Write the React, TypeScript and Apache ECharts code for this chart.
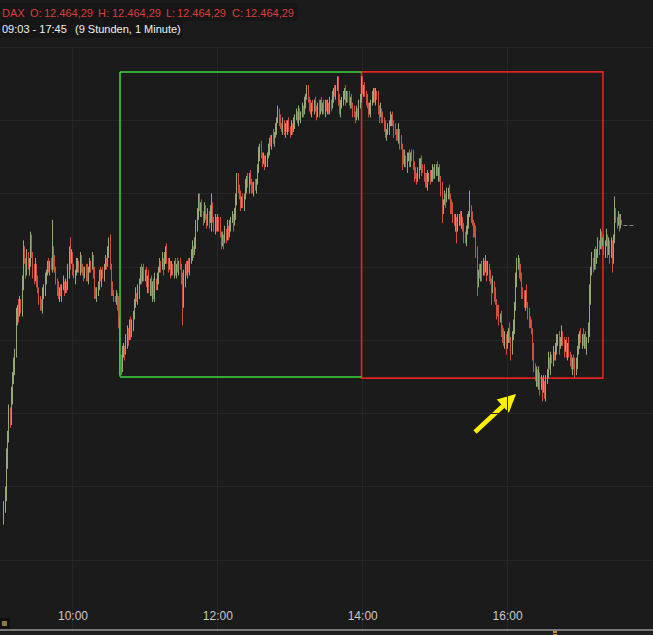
import React, { useEffect, useRef } from "react";
import * as echarts from "echarts";

// 1-minute DAX candles, first candle 09:03 (minute index 3 from 09:00)
const firstIndex = 3;
const firstOpen = 12363;
const closes = [
  12368, 12372, 12384, 12392, 12400, 12398, 12406,
  12412, 12416, 12420, 12432, 12436, 12434, 12438, 12436, 12444, 12455,
  12452, 12449, 12453, 12450, 12452, 12458, 12454, 12449, 12446, 12450,
  12445, 12442, 12440, 12437, 12436, 12440, 12443, 12446, 12448, 12450,
  12449, 12451, 12450, 12456, 12452, 12449, 12446, 12443, 12440, 12442,
  12441, 12443, 12444, 12442, 12444, 12443, 12448, 12455, 12452, 12454,
  12449, 12447, 12448, 12450, 12451, 12449, 12453, 12451, 12448, 12447,
  12449, 12448, 12446, 12449, 12451, 12450, 12453, 12448, 12442, 12440,
  12441, 12444, 12447, 12446, 12448, 12447, 12450, 12452, 12451, 12455,
  12458, 12450, 12443, 12441, 12440, 12439, 12440, 12438, 12430, 12418,
  12416, 12420, 12422, 12421, 12424, 12428, 12426, 12430, 12427, 12431,
  12433, 12438, 12440, 12439, 12442, 12445, 12448, 12446, 12449, 12447,
  12448, 12444, 12446, 12442, 12445, 12441, 12444, 12440, 12445, 12443,
  12446, 12449, 12451, 12450, 12452, 12450, 12453, 12456, 12452, 12450,
  12451, 12448, 12450, 12449, 12451, 12448, 12450, 12449, 12451, 12450,
  12446, 12438, 12446, 12450, 12448, 12451, 12449, 12452, 12454, 12456,
  12455, 12458, 12463, 12468, 12473, 12470, 12471, 12468, 12466, 12469,
  12467, 12465, 12468, 12466, 12468, 12470, 12466, 12464, 12466, 12463,
  12466, 12464, 12461, 12458, 12460, 12459, 12462, 12460, 12463, 12461,
  12464, 12466, 12467, 12465, 12468, 12472, 12480, 12477, 12474, 12472,
  12473, 12471, 12474, 12477, 12480, 12478, 12481, 12479, 12477, 12476,
  12478, 12477, 12479, 12483, 12488, 12491, 12488, 12486, 12487, 12485,
  12486, 12488, 12490, 12493, 12492, 12494, 12493, 12495, 12497, 12500,
  12503, 12500, 12498, 12497, 12499, 12496, 12498, 12497, 12499, 12497,
  12496, 12498, 12497, 12499, 12501, 12502, 12500, 12503, 12501, 12502,
  12504, 12503, 12506, 12508, 12510, 12507, 12505, 12503, 12505, 12504,
  12506, 12504, 12502, 12505, 12503, 12506, 12504, 12505, 12503, 12506,
  12504, 12505, 12503, 12506, 12505, 12508, 12510, 12509, 12511, 12513,
  12508, 12503, 12505, 12507, 12508, 12510, 12507, 12509, 12508, 12506,
  12507, 12505, 12503, 12502, 12501, 12503, 12502, 12505, 12508, 12513,
  12510, 12511, 12509, 12507, 12505, 12503, 12504, 12506, 12508, 12510,
  12507, 12509, 12508, 12504, 12502, 12503, 12501, 12500, 12498, 12495,
  12496, 12497, 12499, 12500, 12501, 12499, 12497, 12496, 12495, 12494,
  12496, 12493, 12491, 12488, 12486, 12487, 12485, 12487, 12488, 12486,
  12488, 12487, 12485, 12482, 12481, 12480, 12482, 12484, 12486, 12484,
  12483, 12481, 12480, 12478, 12480, 12481, 12480, 12482, 12483, 12481,
  12483, 12484, 12482, 12483, 12480, 12476, 12470, 12472, 12474, 12473,
  12475, 12476, 12474, 12471, 12469, 12467, 12465, 12466, 12464, 12466,
  12467, 12465, 12466, 12463, 12461, 12459, 12462, 12465, 12468, 12470,
  12467, 12465, 12463, 12461, 12455, 12446, 12448, 12447, 12450, 12448,
  12451, 12449, 12451, 12448, 12450, 12447, 12445, 12442, 12444, 12441,
  12438, 12435, 12434, 12432, 12433, 12429, 12426, 12424, 12426, 12423,
  12426, 12428, 12425, 12422, 12426, 12429, 12436, 12445, 12450, 12452,
  12448, 12446, 12442, 12440, 12438, 12441, 12437, 12434, 12432, 12430,
  12428, 12421, 12416, 12412, 12414, 12410, 12413, 12409, 12411, 12408,
  12410, 12407, 12411, 12414, 12418, 12416, 12419, 12418, 12420, 12419,
  12422, 12424, 12426, 12423, 12425, 12427, 12424, 12422, 12424, 12421,
  12423, 12420, 12418, 12416, 12418, 12416, 12414, 12418, 12421, 12424,
  12427, 12425, 12426, 12424, 12426, 12423, 12425, 12428, 12440, 12448,
  12452, 12450, 12454, 12452, 12455, 12458, 12457, 12460, 12458, 12459,
  12456, 12458, 12460, 12455, 12458, 12454, 12457, 12452, 12460, 12468,
  12466, 12465, 12467, 12464, 12466, 12464.29,
];

// points above the higher of open/close, per candle
const upWick = [
  2, 3, 4, 2, 3, 2, 3,
  2, 3, 2, 4, 1, 3, 2, 1, 3, 4,
  2, 1, 3, 2, 1, 2, 3, 1, 2, 3,
  1, 2, 1, 0, 2, 3, 1, 2, 1, 2,
  3, 1, 2, 3, 1, 2, 1, 0, 2, 1,
  2, 1, 3, 1, 2, 1, 3, 2, 1, 2,
  1, 2, 1, 3, 2, 1, 2, 1, 0, 2,
  1, 2, 3, 1, 2, 1, 2, 1, 2, 1,
  2, 1, 2, 3, 1, 2, 1, 2, 1, 2,
  1, 3, 1, 2, 1, 0, 2, 1, 2, 3,
  2, 3, 2, 1, 3, 2, 1, 2, 3, 1,
  2, 1, 3, 1, 2, 1, 2, 3, 1, 2,
  1, 2, 1, 3, 1, 2, 1, 2, 3, 1,
  2, 1, 2, 1, 3, 1, 2, 1, 2, 1,
  2, 1, 2, 1, 1, 2, 1, 3, 1, 2,
  1, 2, 3, 1, 2, 1, 2, 1, 2, 3,
  1, 2, 3, 2, 1, 2, 1, 2, 1, 3,
  2, 1, 2, 1, 3, 1, 2, 1, 2, 1,
  2, 1, 3, 1, 2, 1, 2, 1, 3, 1,
  2, 1, 2, 1, 2, 3, 1, 2, 1, 2,
  1, 2, 1, 3, 1, 2, 1, 2, 1, 2,
  1, 2, 1, 2, 3, 1, 2, 1, 2, 1,
  2, 1, 2, 1, 2, 1, 3, 1, 2, 1,
  2, 1, 2, 1, 2, 1, 1, 2, 1, 2,
  1, 2, 1, 2, 1, 2, 1, 2, 1, 1,
  2, 1, 2, 1, 1, 2, 1, 2, 1, 2,
  1, 2, 1, 1, 2, 1, 2, 1, 2, 1,
  1, 2, 1, 2, 1, 2, 1, 2, 1, 1,
  2, 1, 2, 1, 2, 1, 2, 1, 1, 2,
  1, 2, 1, 2, 1, 2, 1, 2, 1, 1,
  2, 1, 2, 1, 2, 1, 2, 1, 2, 1,
  1, 2, 1, 2, 1, 3, 1, 2, 1, 2,
  1, 2, 1, 3, 1, 2, 1, 2, 1, 2,
  3, 1, 2, 1, 2, 3, 1, 2, 1, 2,
  1, 2, 3, 1, 2, 1, 2, 3, 1, 2,
  1, 2, 1, 2, 3, 1, 2, 1, 2, 1,
  2, 1, 2, 1, 2, 1, 3, 1, 2, 1,
  2, 1, 2, 1, 2, 3, 1, 2, 1, 2,
  1, 2, 3, 1, 2, 1, 2, 3, 1, 2,
  1, 2, 1, 2, 3, 2, 1, 3, 1, 2,
  2, 1, 3, 1, 2, 1, 2, 1, 3, 1,
  2, 1, 2, 3, 1, 2, 1, 3, 2, 1,
  2, 1, 3, 1, 2, 3, 2, 3, 1, 2,
  1, 3, 2, 1, 2, 1, 3, 1, 2, 1,
  2, 1, 3, 1, 2, 1, 3, 1, 2, 1,
  3, 1, 2, 1, 3, 1, 2, 1, 3, 1,
  2, 3, 1, 2, 1, 3, 1, 2, 1, 2,
  1, 3, 1, 2, 1, 2, 3, 1, 2, 3,
  1, 2, 1, 3, 1, 2, 1, 3, 4, 2,
  3, 1, 2, 3, 1, 2, 1, 3, 2, 1,
  2, 1, 3, 1, 2, 1, 3, 2, 1, 2,
  2, 1, 2, 1, 2, 0,
];

// points below the lower of open/close, per candle
const downWick = [
  1, 2, 2, 3, 2, 3, 2,
  3, 2, 3, 1, 2, 3, 1, 2, 3, 2,
  1, 3, 2, 1, 3, 2, 1, 3, 2, 1,
  2, 1, 3, 2, 1, 2, 1, 3, 2, 1,
  1, 2, 1, 2, 3, 1, 2, 3, 1, 2,
  1, 3, 1, 2, 1, 2, 1, 2, 3, 1,
  2, 1, 3, 1, 2, 1, 2, 3, 1, 2,
  1, 3, 1, 2, 1, 2, 1, 2, 3, 1,
  2, 1, 2, 1, 3, 1, 2, 1, 2, 1,
  2, 1, 3, 1, 2, 1, 2, 3, 1, 2,
  1, 2, 1, 3, 1, 2, 3, 1, 2, 1,
  3, 1, 2, 1, 2, 3, 1, 2, 1, 2,
  2, 1, 3, 1, 2, 1, 3, 1, 2, 1,
  1, 2, 1, 2, 1, 3, 1, 2, 1, 2,
  1, 2, 1, 2, 3, 1, 2, 1, 2, 1,
  2, 1, 2, 3, 1, 2, 1, 2, 1, 2,
  2, 1, 2, 1, 2, 1, 3, 1, 2, 1,
  1, 2, 1, 3, 1, 2, 1, 2, 3, 1,
  1, 2, 1, 2, 1, 3, 1, 2, 1, 2,
  1, 2, 1, 3, 1, 2, 1, 2, 1, 3,
  2, 1, 2, 1, 2, 1, 3, 1, 2, 1,
  2, 1, 2, 1, 1, 2, 1, 2, 1, 2,
  1, 2, 1, 2, 1, 2, 1, 2, 1, 2,
  1, 2, 1, 1, 2, 1, 2, 1, 2, 1,
  2, 1, 2, 1, 2, 1, 1, 2, 1, 2,
  1, 2, 1, 2, 1, 1, 2, 1, 2, 1,
  2, 1, 2, 1, 2, 1, 1, 2, 1, 2,
  1, 2, 1, 1, 2, 1, 2, 1, 2, 1,
  3, 1, 2, 1, 2, 1, 2, 1, 2, 1,
  2, 1, 2, 1, 2, 1, 1, 2, 1, 2,
  1, 2, 1, 2, 1, 2, 1, 3, 1, 2,
  1, 2, 1, 2, 3, 1, 2, 1, 2, 1,
  2, 1, 2, 1, 2, 1, 3, 1, 2, 1,
  2, 3, 1, 2, 1, 2, 1, 3, 1, 2,
  2, 1, 2, 3, 1, 2, 1, 2, 1, 3,
  1, 2, 3, 1, 2, 1, 2, 1, 3, 1,
  1, 2, 1, 3, 1, 2, 1, 2, 1, 3,
  1, 2, 1, 3, 1, 2, 1, 3, 1, 2,
  2, 1, 2, 1, 3, 1, 2, 1, 2, 1,
  2, 1, 3, 1, 2, 1, 3, 1, 2, 3,
  1, 2, 1, 3, 1, 2, 1, 2, 1, 3,
  1, 3, 1, 2, 1, 3, 2, 1, 2, 3,
  1, 2, 1, 3, 2, 1, 2, 1, 2, 1,
  2, 1, 3, 1, 2, 3, 1, 2, 3, 1,
  1, 3, 2, 1, 3, 1, 2, 3, 1, 2,
  1, 2, 3, 1, 2, 1, 3, 1, 2, 1,
  1, 2, 1, 3, 1, 2, 1, 3, 1, 2,
  3, 1, 2, 1, 3, 1, 2, 1, 3, 1,
  2, 1, 3, 1, 2, 1, 3, 1, 2, 3,
  1, 2, 1, 3, 1, 2, 3, 1, 2, 1,
  2, 3, 1, 2, 1, 3, 1, 2, 1, 2,
  1, 2, 1, 2, 1, 0,
];

// [minute index, high, low] for candles with long wicks
const spikes: [number, number | null, number | null][] = [
  [3, 12370, null], [25, 12462, null], [43, 12466, null], [58, 12460, null],
  [90, 12460, null], [99, null, 12413], [100, null, 12413], [151, null, 12430],
  [164, 12475, null], [175, 12475, 12462], [196, 12482, null], [254, 12512, null],
  [279, 12515, null], [299, 12515, null], [333, null, 12483], [366, null, 12465],
  [378, null, 12458], [389, 12476, null], [395, null, 12440], [407, null, 12437],
  [423, null, 12418], [428, 12453, null], [449, null, 12404], [476, null, 12412],
  [507, null, 12448], [509, 12474, null],
];

const hourLabels = ["10:00", "12:00", "14:00", "16:00"];
const lastPrice = 12464.29;
const greenBox = { from: "10:39", to: "13:59", low: 12412.5, high: 12516.5 };
const redBox = { from: "13:59", to: "17:19", low: 12412, high: 12516.5 };
const headerRed = [
  { t: "DAX", x: 2 },
  { t: "O:", x: 30 },
  { t: "12.464,29", x: 44 },
  { t: "H:", x: 98 },
  { t: "12.464,29", x: 112 },
  { t: "L:", x: 166 },
  { t: "12.464,29", x: 177 },
  { t: "C:", x: 232 },
  { t: "12.464,29", x: 245 },
];
const headerRange = "09:03 - 17:45";
const headerSpan = "(9 Stunden, 1 Minute)";

function pad(n: number) {
  return n < 10 ? "0" + n : "" + n;
}

export default function App() {
  const ref = useRef<HTMLDivElement>(null);
  useEffect(() => {
    if (!ref.current) return;
    const chart = echarts.init(ref.current, null, { renderer: "svg" });
    const cats: string[] = [];
    for (let m = 0; m <= 540; m++) {
      cats.push(pad(9 + Math.floor(m / 60)) + ":" + pad(m % 60));
    }
    const spikeMap: Record<number, [number | null, number | null]> = {};
    spikes.forEach(([i, h, l]) => (spikeMap[i] = [h, l]));
    const data = closes.map((c, k) => {
      const idx = firstIndex + k;
      const o = k === 0 ? firstOpen : closes[k - 1];
      let hi = Math.max(o, c) + (upWick[k] || 0);
      let lo = Math.min(o, c) - (downWick[k] || 0);
      const s = spikeMap[idx];
      if (s) {
        if (s[0] != null) hi = Math.max(hi, s[0]);
        if (s[1] != null) lo = Math.min(lo, s[1]);
      }
      return [idx, o, c, lo, hi];
    });
    const showHour = (_i: number, v: string) => hourLabels.indexOf(v) >= 0;
    const font = "'Liberation Sans', Arial, sans-serif";
    const greenLine = { color: "#3fd83f", width: 1.5, type: "solid" };
    const graphic: any[] = [
      { type: "rect", shape: { x: 0, y: 3, width: 298, height: 18 }, style: { fill: "#161616" } },
      { type: "rect", shape: { x: 0, y: 21, width: 183, height: 17 }, style: { fill: "#161616" } },
      ...headerRed.map((h) => ({
        type: "text",
        x: h.x,
        y: 13,
        style: { text: h.t, fill: "#dc3c3c", font: "11px " + font, verticalAlign: "middle" },
      })),
      { type: "text", x: 2, y: 29, style: { text: headerRange, fill: "#f0f0f0", font: "11px " + font, verticalAlign: "middle" } },
      { type: "text", x: 75, y: 29, style: { text: headerSpan, fill: "#f0f0f0", font: "11px " + font, verticalAlign: "middle" } },
      { type: "rect", shape: { x: 0, y: 618, width: 10, height: 11 }, style: { fill: "#101010" } },
      { type: "rect", shape: { x: 2, y: 621, width: 5, height: 5 }, style: { fill: "#8c7a3e" } },
      { type: "rect", shape: { x: 553, y: 631, width: 4, height: 4 }, style: { fill: "#c8902a" } },
      { type: "line", shape: { x1: 475, y1: 432, x2: 503, y2: 406 }, style: { stroke: "#fff000", lineWidth: 4.5 } },
      { type: "polygon", shape: { points: [[516, 394], [496.7, 399.6], [508.9, 412.8]] }, style: { fill: "#fff000" } },
    ];
    chart.setOption({
      animation: false,
      backgroundColor: "#1c1b1b",
      grid: { left: 0, right: 0, top: 47, bottom: 2 },
      xAxis: {
        type: "category",
        data: cats,
        boundaryGap: true,
        offset: -3,
        axisLine: { lineStyle: { color: "#9a9a9a", width: 1.5 } },
        axisTick: { inside: true, length: 4, alignWithLabel: true, interval: showHour, lineStyle: { color: "#bbbbbb" } },
        axisLabel: { inside: true, margin: 8, interval: showHour, color: "#c8c8c8", fontSize: 12, fontFamily: font },
        splitLine: { show: true, interval: showHour, lineStyle: { color: "#262626", width: 1 } },
      },
      yAxis: {
        type: "value",
        position: "right",
        min: 12325,
        max: 12525,
        interval: 25,
        axisLabel: { show: false },
        axisLine: { show: false },
        axisTick: { show: false },
        splitLine: { show: true, lineStyle: { color: "#262626", width: 1 } },
      },
      series: [
        {
          type: "candlestick",
          data,
          encode: { x: 0, y: [1, 2, 3, 4] },
          barWidth: 1,
          itemStyle: {
            color: "#94a878",
            color0: "#cf503e",
            borderColor: "#94a878",
            borderColor0: "#cf503e",
            borderWidth: 1,
          },
          markArea: {
            silent: true,
            data: [
              [
                {
                  xAxis: redBox.from,
                  yAxis: redBox.low,
                  itemStyle: { color: "rgba(0,0,0,0)", borderColor: "#e02424", borderWidth: 1.6 },
                },
                { xAxis: redBox.to, yAxis: redBox.high },
              ],
            ],
          },
          markLine: {
            silent: true,
            symbol: "none",
            label: { show: false },
            lineStyle: { color: "#8a8a8a", type: "dashed", width: 1 },
            data: [
              [{ coord: ["17:36", lastPrice] }, { coord: ["17:45", lastPrice] }],
              [{ coord: [greenBox.from, greenBox.high], lineStyle: greenLine }, { coord: [greenBox.to, greenBox.high] }],
              [{ coord: [greenBox.from, greenBox.low], lineStyle: greenLine }, { coord: [greenBox.to, greenBox.low] }],
              [{ coord: [greenBox.from, greenBox.low], lineStyle: greenLine }, { coord: [greenBox.from, greenBox.high] }],
            ],
          },
        },
      ],
      graphic,
    });
    return () => chart.dispose();
  }, []);
  return <div ref={ref} style={{ position: "fixed", left: 0, top: 0, width: 653, height: 635 }} />;
}
